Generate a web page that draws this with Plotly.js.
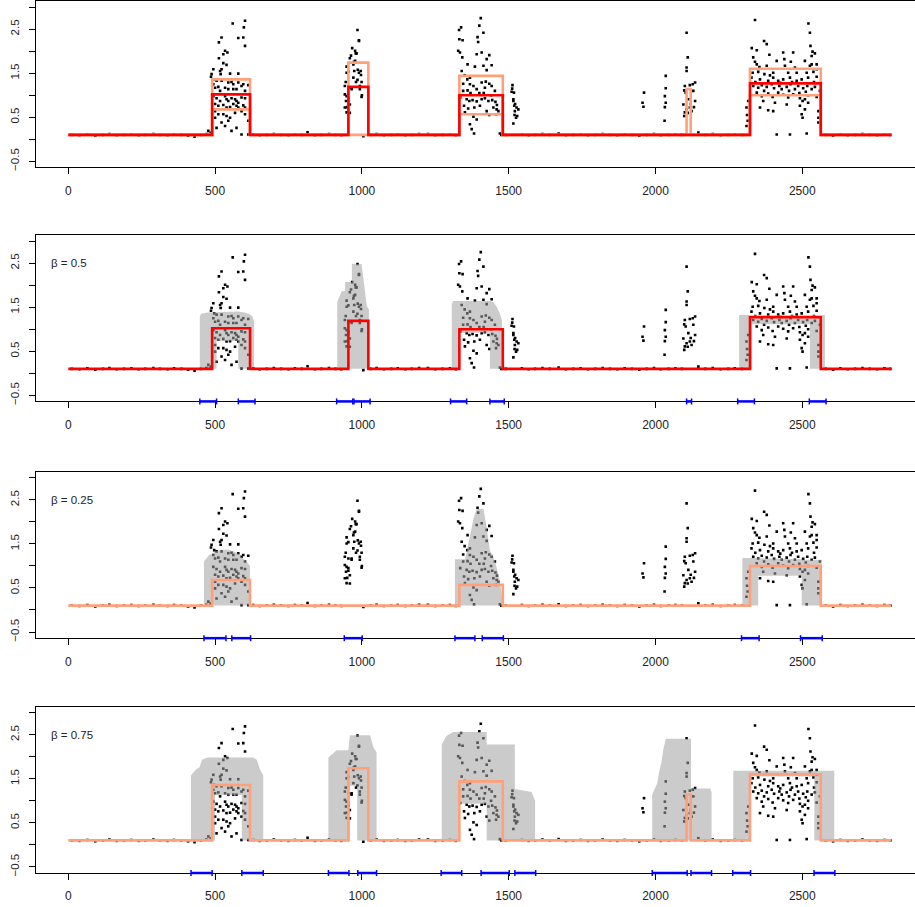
<!DOCTYPE html>
<html><head><meta charset="utf-8">
<script src="https://cdn.plot.ly/plotly-3.0.1.min.js"></script>
<style>html,body{margin:0;padding:0;background:#fff;overflow:hidden}#chart{width:915px;height:907px}</style>
</head><body><div id="chart"></div>
<script>
// ---------- observations (x = position, y = value) ----------
const obsBase = [[12,0.1],[38,0.09],[65,0.11],[92,0.08],[118,0.1],[140,0.12],[165,0.09],[190,0.1],[215,0.11],[240,0.09],[262,0.1],[290,0.12],[312,0.1],[338,0.09],[360,0.11],[385,0.1],[408,0.08],[430,0.06],[452,0.1],[470,0.12],[485,0.14],[630,0.11],[652,0.09],[676,0.1],[700,0.12],[725,0.1],[750,0.09],[772,0.11],[795,0.1],[815,0.16],[840,0.09],[862,0.1],[888,0.12],[910,0.1],[930,0.09],[1030,0.1],[1050,0.12],[1075,0.09],[1100,0.1],[1122,0.11],[1148,0.09],[1170,0.1],[1195,0.12],[1225,0.12],[1250,0.09],[1275,0.1],[1300,0.11],[1320,0.09],[1490,0.1],[1545,0.11],[1568,0.09],[1590,0.1],[1615,0.12],[1640,0.1],[1670,0.13],[1695,0.09],[1720,0.1],[1745,0.11],[1770,0.09],[1795,0.1],[1820,0.12],[1845,0.1],[1870,0.09],[1895,0.11],[1920,0.1],[1945,0.08],[1970,0.1],[1995,0.12],[2018,0.09],[2045,0.1],[2068,0.11],[2090,0.1],[2146,0.15],[2170,0.1],[2195,0.12],[2222,0.09],[2248,0.1],[2270,0.11],[2295,0.1],[2580,0.1],[2605,0.08],[2630,0.11],[2655,0.09],[2680,0.1],[2705,0.12],[2730,0.1],[2755,0.09],[2780,0.11],[2800,0.1]];
const obsA = [[602,2.69],[560,2.63],[598,2.54],[522,2.31],[579,2.30],[596,2.31],[513,2.20],[602,2.12],[534,2.01],[528,1.93],[542,1.97],[513,1.84],[528,1.73],[539,1.69],[522,1.59],[517,1.55],[519,1.48],[551,1.49],[579,1.49],[494,1.59],[488,1.48],[486,1.42],[497,1.36],[505,1.33],[522,1.33],[545,1.29],[556,1.30],[562,1.25],[579,1.29],[596,1.25],[494,1.25],[500,1.17],[511,1.19],[517,1.10],[534,1.17],[545,1.14],[562,1.14],[573,1.14],[590,1.21],[602,1.10],[613,1.23],[494,0.98],[505,0.93],[517,0.87],[534,0.98],[539,0.91],[545,0.87],[556,0.93],[568,0.91],[573,0.87],[579,0.83],[590,0.95],[602,0.93],[500,0.80],[511,0.76],[528,0.78],[539,0.72],[551,0.73],[562,0.80],[573,0.76],[579,0.72],[596,0.77],[602,0.72],[500,0.64],[511,0.57],[528,0.57],[539,0.53],[551,0.49],[568,0.60],[590,0.64],[602,0.57],[613,0.42],[500,0.49],[522,0.38],[545,0.42],[534,0.30],[573,0.26],[556,0.19],[505,0.26],[477,0.19],[488,0.15],[590,0.11],[613,0.11]];
const obsB = [[985,2.48],[990,2.23],[967,2.07],[977,2.01],[982,1.95],[959,1.84],[977,1.78],[971,1.70],[948,1.51],[974,1.55],[990,1.51],[996,1.55],[971,1.40],[999,1.30],[980,1.30],[942,1.21],[954,1.17],[965,1.14],[993,1.14],[948,0.98],[999,0.96],[946,0.87],[954,0.89],[942,0.72],[950,0.73],[1005,0.07],[990,2.25],[979,1.95],[973,1.76],[948,1.65],[954,1.54],[986,1.58],[997,1.46],[965,1.17],[993,1.21],[954,0.95],[942,1.02],[959,0.79],[948,0.61],[959,0.60],[1000,1.0],[963,1.90],[945,1.30],[985,1.35]];
const obsC = [[1405,2.75],[1338,2.54],[1331,2.48],[1400,2.58],[1414,2.42],[1394,2.32],[1396,2.21],[1332,2.27],[1343,2.25],[1328,2.01],[1334,1.97],[1391,1.93],[1408,1.97],[1434,1.91],[1342,1.86],[1425,1.82],[1360,1.70],[1385,1.65],[1414,1.67],[1442,1.68],[1340,1.55],[1425,1.57],[1359,1.36],[1368,1.40],[1345,1.26],[1368,1.25],[1380,1.21],[1408,1.29],[1422,1.31],[1434,1.26],[1419,1.17],[1442,1.21],[1453,1.10],[1345,1.10],[1360,1.11],[1391,1.14],[1357,0.91],[1366,0.87],[1377,0.89],[1391,0.86],[1408,0.91],[1419,0.93],[1431,0.87],[1444,0.89],[1348,0.76],[1362,0.70],[1383,0.72],[1402,0.76],[1425,0.64],[1448,0.72],[1459,0.68],[1465,0.64],[1351,0.61],[1380,0.51],[1391,0.45],[1368,0.34],[1374,0.23],[1382,0.13],[1434,0.55],[1457,0.57],[1470,0.13],[1350,1.45],[1400,1.05],[1415,1.05],[1440,1.0],[1455,0.85],[1370,1.05],[1335,0.95],[1460,0.78],[1475,0.1]];
const obsD = [[1513,1.23],[1510,1.08],[1518,1.06],[1516,0.91],[1519,0.76],[1527,0.72],[1533,0.68],[1521,0.64],[1529,0.53],[1525,0.49],[1516,0.87],[1512,1.15],[1522,0.80],[1516,0.36],[1520,0.55]];
const obsE = [[1961,1.06],[1956,0.83],[1959,0.74],[2035,1.44],[2035,1.16],[2032,0.98],[2035,0.83],[2032,0.73],[2031,0.42],[2106,2.42],[2110,1.86],[2106,1.63],[2106,1.55],[2100,1.21],[2117,1.23],[2127,1.25],[2135,1.29],[2098,1.11],[2103,1.06],[2129,1.10],[2095,0.79],[2106,0.68],[2117,0.72],[2123,0.64],[2131,0.73],[2100,0.61],[2112,0.91],[2135,0.87],[2098,0.53],[2120,0.80],[2110,0.60]];
const obsF = [[2339,2.71],[2521,2.63],[2526,2.42],[2370,2.23],[2379,2.16],[2328,2.07],[2345,2.02],[2435,1.97],[2469,1.97],[2528,2.12],[2535,1.99],[2333,1.86],[2388,1.92],[2439,1.82],[2532,1.89],[2543,1.95],[2339,1.76],[2413,1.78],[2461,1.76],[2509,1.78],[2532,1.70],[2549,1.70],[2345,1.70],[2354,1.64],[2379,1.67],[2441,1.67],[2475,1.63],[2526,1.67],[2549,1.59],[2331,1.51],[2350,1.53],[2371,1.48],[2401,1.51],[2452,1.51],[2481,1.51],[2515,1.51],[2538,1.53],[2327,1.40],[2356,1.36],[2384,1.33],[2401,1.40],[2418,1.33],[2435,1.36],[2458,1.40],[2481,1.33],[2498,1.36],[2520,1.40],[2549,1.42],[2333,1.21],[2350,1.17],[2362,1.23],[2379,1.19],[2396,1.25],[2404,1.16],[2422,1.21],[2430,1.14],[2447,1.19],[2460,1.25],[2475,1.14],[2486,1.21],[2503,1.16],[2517,1.21],[2532,1.14],[2543,1.19],[2345,1.06],[2362,0.98],[2384,1.04],[2399,0.96],[2418,1.06],[2435,1.01],[2452,0.95],[2469,1.02],[2492,0.93],[2501,0.87],[2509,0.91],[2520,0.83],[2549,0.96],[2367,0.87],[2407,0.83],[2447,0.79],[2492,0.76],[2509,0.68],[2498,0.57],[2501,0.49],[2555,0.64],[2555,0.49],[2555,0.38],[2316,0.87],[2310,0.72],[2314,0.42],[2384,0.66],[2401,0.64],[2356,0.72],[2413,0.11],[2458,0.11],[2515,0.13],[2310,0.30],[2312,0.55],[2340,1.30],[2370,1.10],[2425,1.28],[2465,1.30],[2490,1.05],[2512,1.08],[2540,1.30],[2390,1.45],[2455,1.10],[2520,1.0],[2560,1.1]];

// ---------- step estimates (x = start of step, y = level) ----------
const medianX  = [0, 490, 619, 954, 1022, 1332, 1480, 2322, 2563, 2803];
const medianY  = [0.1, 1.02, 0.1, 1.19, 0.1, 1.0, 0.1, 1.27, 0.1, 0.1];
const upperX   = [0, 490, 619, 954, 1022, 1332, 1480, 2106, 2120, 2322, 2563, 2803];
const upperY   = [0.1, 1.36, 0.1, 1.74, 0.1, 1.44, 0.1, 1.14, 0.1, 1.60, 0.1, 0.1];
const lowerX   = [0, 490, 619, 1332, 1480, 2322, 2563, 2803];
const lowerY   = [0.1, 0.68, 0.1, 0.57, 0.1, 1.0, 0.1, 0.1];

// ---------- gray bands (x, upper, lower; null separates regions) ----------
const band05X  = [448,452,475,505,505,540,579,579,600,615,626,633, null, 916,921,931,943,943,966,966,999,1004,1010,1017,1024, null, 1306,1311,1332,1332,1436,1436,1448,1460,1470,1477, null, 2285,2328,2328,2526,2526,2577];
const band05Up = [1.28,1.35,1.38,1.39,1.39,1.40,1.40,1.40,1.38,1.35,1.30,1.18, null, 1.62,1.70,1.86,1.86,2.07,2.07,2.48,2.48,2.20,1.80,1.52,1.45, null, 1.58,1.64,1.64,1.64,1.64,1.64,1.62,1.50,1.35,1.20, null, 1.32,1.32,1.32,1.32,1.32,1.32];
const band05Lo = [0.1,0.1,0.1,0.1,0.73,0.73,0.73,0.1,0.1,0.1,0.1,0.1, null, 0.1,0.1,0.1,0.1,0.1,0.1,0.1,0.1,0.1,0.1,0.1,0.1, null, 0.1,0.1,0.1,0.92,0.92,0.1,0.1,0.1,0.1,0.1, null, 0.1,0.1,1.11,1.11,0.1,0.1];

const band025X  = [462,470,480,500,520,545,565,580,600,610,619, null, 1317,1351,1358,1368,1380,1391,1414,1425,1436,1453,1470,1479, null, 2296,2350,2350,2498,2498,2566];
const band025Up = [1.10,1.18,1.25,1.32,1.37,1.37,1.33,1.27,1.15,1.08,1.00, null, 1.15,1.15,1.35,1.65,2.07,2.30,2.30,1.88,1.35,1.12,0.67,0.20, null, 1.18,1.18,1.18,1.15,1.14,1.14];
const band025Lo = [0.1,0.1,0.1,0.1,0.1,0.1,0.1,0.1,0.1,0.1,0.1, null, 0.1,0.1,0.1,0.1,0.1,0.1,0.1,0.1,0.1,0.1,0.1,0.1, null, 0.1,0.1,0.78,0.78,0.1,0.1];

const band075X  = [418,435,447,455,475,500,500,591,591,630,642,653,664, null, 886,914,954,957,959,959,984,984,1028,1040,1050, null, 1272,1288,1311,1334,1334,1425,1425,1521,1521,1578,1590, null, 1989,1996,2006,2012,2020,2027,2035,2121,2121,2186,2191, null, 2265,2322,2322,2541,2541,2609];
const band075Up = [1.58,1.71,1.76,1.93,1.98,1.98,1.98,1.98,1.98,1.98,1.93,1.71,1.58, null, 1.98,2.15,2.15,2.49,2.49,2.49,2.49,2.49,2.49,2.20,2.10, null, 2.28,2.47,2.56,2.56,2.56,2.56,2.28,2.28,1.27,1.20,1.00, null, 1.15,1.27,1.40,1.64,1.87,2.17,2.41,2.41,1.28,1.28,1.20, null, 1.68,1.68,1.68,1.68,1.68,1.68];
const band075Lo = [0.1,0.1,0.1,0.1,0.1,0.1,1.13,1.13,0.1,0.1,0.1,0.1,0.1, null, 0.1,0.1,0.1,0.1,0.1,1.34,1.34,0.1,0.1,0.1,0.1, null, 0.1,0.1,0.1,0.1,0.93,0.93,0.1,0.1,0.1,0.1,0.1, null, 0.1,0.1,0.1,0.1,0.1,0.1,0.1,0.1,0.1,0.1,0.1, null, 0.1,0.1,1.55,1.55,0.1,0.1];

// ---------- blue intervals (start, end) ----------
const int05  = [[448,505],[579,636],[914,969],[973,1028],[1302,1357],[1436,1485],[2106,2123],[2280,2337],[2524,2581]];
const int025 = [[462,537],[557,621],[940,1001],[1317,1385],[1410,1482],[2293,2353],[2494,2568]];
const int075 = [[418,490],[591,664],[886,956],[986,1050],[1270,1340],[1406,1502],[1521,1592],[1989,2108],[2121,2191],[2263,2324],[2540,2611]];

// ---------- axis ticks ----------
const xTickVals = [0, 500, 1000, 1500, 2000, 2500];
const xTickText = ['0', '500', '1000', '1500', '2000', '2500'];
const yTickVals = [-0.5, 0, 0.5, 1, 1.5, 2, 2.5, 3];
const yTickText = ['\u22120.5', '', '0.5', '', '1.5', '', '2.5', ''];
const betaLabels = ['\u03b2 = 0.5', '\u03b2 = 0.25', '\u03b2 = 0.75'];

// ---------- build ----------
const allObs = [].concat(obsBase, obsA, obsB, obsC, obsD, obsE, obsF);
const ptX = allObs.map(p => p[0]);
const ptY = allObs.map(p => p[1]);

function bandPoly(xs, up, lo) {
  const px = [], py = [];
  let seg = [];
  const flush = () => {
    if (!seg.length) return;
    seg.forEach(i => { px.push(xs[i]); py.push(up[i]); });
    seg.slice().reverse().forEach(i => { px.push(xs[i]); py.push(lo[i]); });
    px.push(null); py.push(null);
    seg = [];
  };
  xs.forEach((v, i) => { if (v === null) flush(); else seg.push(i); });
  flush();
  return {x: px, y: py};
}

const RED = '#ff0000', SALMON = '#ffa07a', BLUE = '#0000ff';
const GRAY = 'rgba(160,160,160,0.55)';
const FONT = 'Liberation Sans, Arial, Helvetica, sans-serif';

function pts(ax) {
  return {x: ptX, y: ptY, xaxis: 'x' + ax, yaxis: 'y' + ax, type: 'scatter', mode: 'markers',
    marker: {symbol: 'square', size: 2.6, color: '#000', line: {width: 0}}, hoverinfo: 'skip'};
}
function band(ax, xs, up, lo) {
  const p = bandPoly(xs, up, lo);
  return {x: p.x, y: p.y, xaxis: 'x' + ax, yaxis: 'y' + ax, type: 'scatter', mode: 'lines',
    fill: 'toself', fillcolor: GRAY, line: {width: 0, color: GRAY}, hoverinfo: 'skip'};
}
function step(ax, xs, ys, color) {
  return {x: xs, y: ys, xaxis: 'x' + ax, yaxis: 'y' + ax, type: 'scatter', mode: 'lines',
    line: {shape: 'hv', color: color, width: 2.6}, hoverinfo: 'skip'};
}

const data = [
  pts(''), step('', upperX, upperY, SALMON), step('', lowerX, lowerY, SALMON), step('', medianX, medianY, RED),
  pts('2'), band('2', band05X, band05Up, band05Lo), step('2', medianX, medianY, RED),
  pts('3'), band('3', band025X, band025Up, band025Lo), step('3', lowerX, lowerY, SALMON),
  pts('4'), band('4', band075X, band075Up, band075Lo), step('4', upperX, upperY, SALMON)
];

const shapes = [];
[[2, int05], [3, int025], [4, int075]].forEach(([ax, ints]) => {
  ints.forEach(([s, e]) => {
    shapes.push({type: 'line', xref: 'x' + ax, yref: 'y' + ax + ' domain', x0: s, x1: e, y0: 0, y1: 0,
      line: {color: BLUE, width: 2.5}});
    [s, e].forEach(v => shapes.push({type: 'line', xref: 'x' + ax, yref: 'y' + ax + ' domain',
      x0: v, x1: v, y0: -0.018, y1: 0.018, line: {color: BLUE, width: 1.5}}));
  });
});

function xax(anchor) {
  return {anchor: anchor, domain: [0, 1], range: [-110, 2884], showline: true, linecolor: '#000', linewidth: 1,
    mirror: true, ticks: 'outside', ticklen: 6, tickwidth: 1, tickcolor: '#000',
    tickvals: xTickVals, ticktext: xTickText, showgrid: false, zeroline: false, ticklabelstandoff: 6,
    tickfont: {family: FONT, size: 12, color: '#222'}};
}
function yax(anchor, dom) {
  return {anchor: anchor, domain: dom, range: [-0.64, 3.14], showline: true, linecolor: '#000', linewidth: 1,
    mirror: false, ticks: 'outside', ticklen: 6, tickwidth: 1, tickcolor: '#000',
    tickvals: yTickVals, ticktext: yTickText, tickangle: -90, showgrid: false, zeroline: false,
    ticklabelstandoff: 5, tickfont: {family: FONT, size: 11.5, color: '#222'}};
}

const annotations = betaLabels.map((t, i) => ({
  text: t, xref: 'paper', x: 0.015, xanchor: 'left', yref: 'y' + (i + 2), y: 2.5, yanchor: 'middle',
  showarrow: false, font: {family: FONT, size: 11.5, color: '#222'}
}));

const layout = {
  width: 915, height: 907, margin: {l: 36, r: 0, t: 1, b: 34},
  paper_bgcolor: '#fff', plot_bgcolor: '#fff', showlegend: false,
  xaxis: xax('y'), yaxis: yax('x', [0.8091, 1]),
  xaxis2: xax('y2'), yaxis2: yax('x2', [0.5408, 0.7317]),
  xaxis3: xax('y3'), yaxis3: yax('x3', [0.2693, 0.4602]),
  xaxis4: xax('y4'), yaxis4: yax('x4', [0, 0.1909]),
  shapes: shapes, annotations: annotations
};

Plotly.newPlot('chart', data, layout, {staticPlot: true, displayModeBar: false});
</script>
</body></html>
